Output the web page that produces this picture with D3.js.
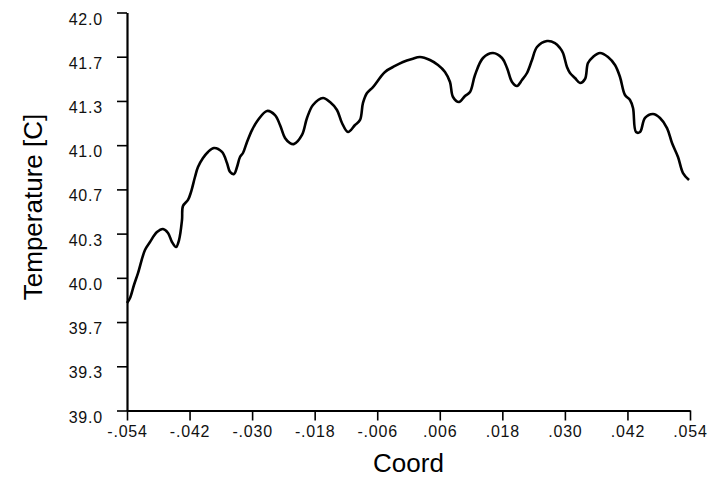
<!DOCTYPE html>
<html>
<head>
<meta charset="utf-8">
<script src="https://cdn.jsdelivr.net/npm/d3@7"></script>
<style>
  body { margin: 0; background: #fff; }
  .tick text { font-family: "Liberation Sans", Arial, sans-serif; font-size: 16px; fill: #111; letter-spacing: 0.8px; }
  .axis-title { font-family: "Liberation Sans", Arial, sans-serif; font-size: 26px; fill: #000; }
</style>
</head>
<body>
<div class="chart"></div>
<script>
// values
var coordValues = [
  -0.0540, -0.05342, -0.05266, -0.05189, -0.05055, -0.04959, -0.04825, -0.04709, -0.04613, -0.04537,
  -0.04460, -0.04402, -0.04345, -0.04326, -0.04230, -0.04172, -0.04096, -0.04038, -0.03942, -0.03846,
  -0.03731, -0.03578, -0.03482, -0.03424, -0.03347, -0.03290, -0.03232, -0.03175, -0.03098, -0.03002,
  -0.02887, -0.02714, -0.02561, -0.02465, -0.02369, -0.02273, -0.02196, -0.02043, -0.01947, -0.01832,
  -0.01640, -0.01506, -0.01372, -0.01276, -0.01161, -0.01026, -0.00930, -0.00873, -0.00796, -0.00681,
  -0.00451, -0.00259, -0.00106, 0.00067, 0.00221, 0.00412, 0.00566, 0.00700, 0.00796, 0.00854,
  0.00969, 0.01084, 0.01180, 0.01276, 0.01429, 0.01621, 0.01794, 0.01890, 0.01986, 0.02081,
  0.02177, 0.02273, 0.02369, 0.02465, 0.02657, 0.02810, 0.02906, 0.02964, 0.03040, 0.03098,
  0.03194, 0.03290, 0.03386, 0.03443, 0.03539, 0.03673, 0.03827, 0.03961, 0.04057, 0.04153,
  0.04249, 0.04307, 0.04364, 0.04441, 0.04537, 0.04690, 0.04825, 0.04959, 0.05055, 0.05170,
  0.05266, 0.05381
];
var tempValues = [
  39.810, 39.848, 39.946, 40.036, 40.210, 40.270, 40.345, 40.368, 40.338, 40.270,
  40.232, 40.285, 40.436, 40.541, 40.587, 40.647, 40.760, 40.835, 40.903, 40.949,
  40.979, 40.949, 40.866, 40.798, 40.783, 40.835, 40.911, 40.941, 41.024, 41.114,
  41.190, 41.258, 41.227, 41.152, 41.054, 41.016, 41.009, 41.077, 41.205, 41.303,
  41.356, 41.325, 41.265, 41.167, 41.099, 41.152, 41.190, 41.318, 41.393, 41.438,
  41.552, 41.597, 41.627, 41.650, 41.665, 41.642, 41.604, 41.552, 41.476, 41.363,
  41.325, 41.371, 41.401, 41.529, 41.657, 41.695, 41.657, 41.582, 41.476, 41.446,
  41.491, 41.544, 41.642, 41.740, 41.785, 41.770, 41.732, 41.695, 41.589, 41.544,
  41.506, 41.469, 41.499, 41.619, 41.665, 41.695, 41.665, 41.604, 41.514, 41.378,
  41.340, 41.280, 41.099, 41.099, 41.205, 41.235, 41.205, 41.129, 41.016, 40.911,
  40.790, 40.737
];

var xTickValues = [-0.054, -0.042, -0.030, -0.018, -0.006, 0.006, 0.018, 0.030, 0.042, 0.054];
var xTickLabels = ["-.054", "-.042", "-.030", "-.018", "-.006", ".006", ".018", ".030", ".042", ".054"];
var yTickLabels = ["39.0", "39.3", "39.7", "40.0", "40.3", "40.7", "41.0", "41.3", "41.7", "42.0"];

var svgWidth = 720;
var svgHeight = 478;

var margin = {
  top: 12.5,
  right: 30,
  bottom: 67.5,
  left: 127
};

var width = svgWidth - margin.left - margin.right;
var height = svgHeight - margin.top - margin.bottom;

var svg = d3
  .select(".chart")
  .append("svg")
  .attr("width", svgWidth)
  .attr("height", svgHeight);

var chartGroup = svg.append("g")
  .attr("transform", `translate(${margin.left}, ${margin.top})`);

// scales
var xLinearScale = d3.scaleLinear()
  .domain([-0.054, 0.054])
  .range([0, width]);

var yLinearScale = d3.scaleLinear()
  .domain([39, 42])
  .range([height, 0]);

// y ticks every 1/3 degree, labels rounded to one decimal
var yTickValues = yTickLabels.map((d, i) => 39 + i / 3);

var bottomAxis = d3.axisBottom(xLinearScale)
  .tickValues(xTickValues)
  .tickFormat((d, i) => xTickLabels[i])
  .tickSizeInner(10)
  .tickSizeOuter(0)
  .tickPadding(5);

var leftAxis = d3.axisLeft(yLinearScale)
  .tickValues(yTickValues)
  .tickFormat((d, i) => yTickLabels[i])
  .tickSizeInner(10)
  .tickSizeOuter(0)
  .tickPadding(14);

var xAxis = chartGroup.append("g")
  .attr("transform", `translate(0, ${height})`)
  .call(bottomAxis);

var yAxis = chartGroup.append("g")
  .call(leftAxis);

// heavier black axis lines like the original
chartGroup.selectAll(".domain")
  .attr("stroke", "#000")
  .attr("stroke-width", 2.2);
chartGroup.selectAll(".tick line")
  .attr("stroke", "#000")
  .attr("stroke-width", 1.6);

// labels sit just under their ticks on the y axis
yAxis.selectAll(".tick text")
  .attr("dy", "0.72em");

// the temperature line
var line = d3.line()
  .x((d, i) => xLinearScale(coordValues[i]))
  .y(d => yLinearScale(d))
  .curve(d3.curveCatmullRom.alpha(0.5));

chartGroup.append("path")
  .datum(tempValues)
  .attr("fill", "none")
  .attr("stroke", "#000")
  .attr("stroke-width", 2.6)
  .attr("stroke-linejoin", "round")
  .attr("d", line);

// axis titles
svg.append("text")
  .attr("class", "axis-title")
  .attr("x", margin.left + width / 2)
  .attr("y", 472)
  .attr("text-anchor", "middle")
  .text("Coord");

svg.append("text")
  .attr("class", "axis-title")
  .attr("transform", "translate(42, 207) rotate(-90)")
  .attr("text-anchor", "middle")
  .text("Temperature [C]");
</script>
</body>
</html>
